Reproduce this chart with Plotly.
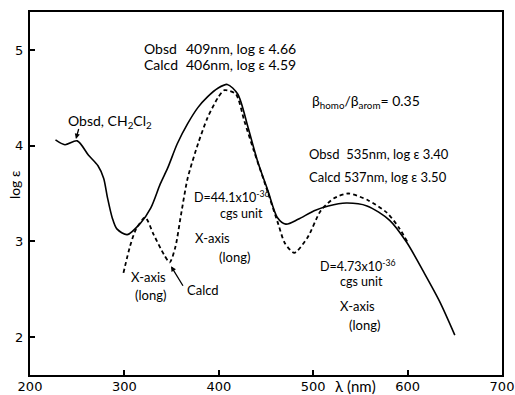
import plotly.graph_objects as go

# Observed spectrum (solid)
obsd_nm = [227, 237, 250, 262, 272, 278, 282, 287, 292, 303, 317, 328, 338, 346, 356, 367, 378, 388,
           399, 409, 420, 431, 441, 452, 462, 471, 484, 501, 516, 535, 557, 581, 599, 617, 634, 650]
obsd_loge = [4.06, 4.01, 4.05, 3.90, 3.79, 3.66, 3.46, 3.25, 3.13, 3.07, 3.19, 3.35, 3.60, 3.77, 4.02, 4.23, 4.40, 4.51,
             4.60, 4.64, 4.54, 4.19, 3.84, 3.53, 3.25, 3.18, 3.23, 3.32, 3.37, 3.40, 3.37, 3.22, 2.99, 2.68, 2.37, 2.02]

# Calculated spectrum (dashed)
calcd_nm = [299, 306, 312, 322, 331, 342, 348, 354, 360, 367, 378, 388, 399, 406, 418, 427, 437, 448,
            463, 470, 480, 494, 508, 522, 537, 558, 578, 591, 600]
calcd_loge = [2.67, 2.95, 3.12, 3.25, 3.07, 2.86, 2.78, 2.94, 3.28, 3.66, 4.02, 4.29, 4.50, 4.58, 4.54, 4.26, 3.95, 3.63,
              3.18, 2.98, 2.88, 3.04, 3.32, 3.45, 3.50, 3.43, 3.30, 3.14, 2.99]

x_ticks = [200, 300, 400, 500, 600, 700]
y_ticks = [2, 3, 4, 5]

FONT = "Lato"
TICKFONT = "DejaVu Sans"

fig = go.Figure()
fig.add_trace(go.Scatter(x=obsd_nm, y=obsd_loge, mode="lines",
                         line=dict(color="black", width=1.6, shape="spline", smoothing=0.8),
                         showlegend=False))
fig.add_trace(go.Scatter(x=calcd_nm, y=calcd_loge, mode="lines",
                         line=dict(color="black", width=1.8, dash="4px,3px", shape="spline", smoothing=0.7),
                         showlegend=False))

def txt(x, y, s, size=14):
    return dict(x=x, y=y, xref="x", yref="y", text=s, showarrow=False,
                xanchor="left", yanchor="middle", font=dict(family=FONT, size=size, color="black"))

anns = [
    txt(318.6, 5.02, "Obsd"),
    txt(363.1, 5.02, "409nm, log \u03b5 4.66"),
    txt(318.6, 4.85, "Calcd"),
    txt(363.1, 4.85, "406nm, log \u03b5 4.59"),
    txt(496.6, 4.46, "\u03b2<sub>homo</sub>/\u03b2<sub>arom</sub>= 0.35"),
    txt(493.4, 3.91, "Obsd\u00a0 535nm, log \u03b5 3.40", 13),
    txt(493.4, 3.67, "Calcd 537nm, log \u03b5 3.50", 13),
    txt(238.1, 4.25, "Obsd, CH<sub>2</sub>Cl<sub>2</sub>"),
    txt(371.6, 3.47, "D=44.1x10<sup>-36</sup>", 12.5),
    txt(399.2, 3.29, "cgs unit", 12.5),
    txt(372.7, 3.04, "X-axis", 13),
    txt(398.1, 2.84, "(long)", 13),
    txt(304.9, 2.63, "X-axis", 13),
    txt(309.1, 2.44, "(long)", 13),
    txt(364.2, 2.49, "Calcd", 13),
    txt(505.1, 2.75, "D=4.73x10<sup>-36</sup>", 12.5),
    txt(526.3, 2.58, "cgs unit", 12.5),
    txt(526.3, 2.32, "X-axis", 13),
    txt(535.8, 2.13, "(long)", 13),
    # arrows
    dict(x=248.7, y=4.07, ax=252, ay=4.19, xref="x", yref="y", axref="x", ayref="y",
         text="", showarrow=True, arrowhead=2, arrowsize=0.8, arrowwidth=1.3, arrowcolor="black"),
    dict(x=349.4, y=2.74, ax=363, ay=2.52, xref="x", yref="y", axref="x", ayref="y",
         text="", showarrow=True, arrowhead=2, arrowsize=0.8, arrowwidth=1.3, arrowcolor="black"),
    # axis titles
    dict(x=-0.034, y=0.523, xref="paper", yref="paper", text="log \u03b5", showarrow=False,
         xanchor="center", yanchor="middle",
         textangle=-90, font=dict(family=FONT, size=14, color="black")),
    dict(x=0.689, y=-0.029, xref="paper", yref="paper", text="\u03bb (nm)", showarrow=False,
         xanchor="center", yanchor="middle", font=dict(family=FONT, size=15, color="black")),
]

fig.update_layout(
    width=515, height=395,
    margin=dict(l=30, r=13, t=12, b=20, autoexpand=False),
    paper_bgcolor="white", plot_bgcolor="white",
    annotations=anns,
    xaxis=dict(range=[200, 700], tickvals=x_ticks, ticks="inside", ticklen=5, tickwidth=1.5,
               tickcolor="black", showline=True, mirror=True, linecolor="black", linewidth=2,
               showgrid=False, zeroline=False, automargin=False, ticklabelstandoff=-2,
               tickfont=dict(family=TICKFONT, size=13, color="black")),
    yaxis=dict(range=[1.603, 5.397], tickvals=y_ticks, ticks="inside", ticklen=5, tickwidth=1.5,
               tickcolor="black", showline=True, mirror=True, linecolor="black", linewidth=2,
               showgrid=False, zeroline=False, automargin=False, ticklabelstandoff=2,
               tickfont=dict(family=TICKFONT, size=13, color="black")),
)

fig.write_html("out.html")
